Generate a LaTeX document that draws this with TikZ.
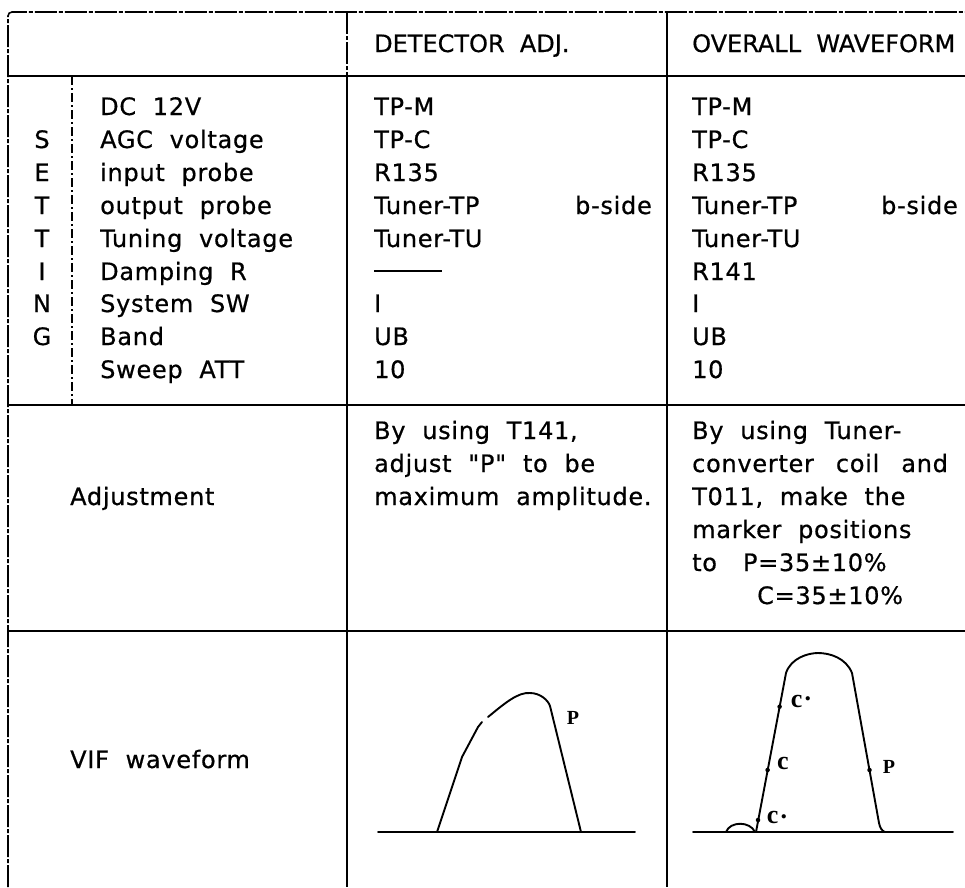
\documentclass[tikz,border=0pt]{standalone}
\usepackage{fontspec}
\newfontfamily\tabfont{DejaVu Sans}[WordSpace=2,LetterSpace=3,FakeBold=0.6]
\newfontfamily\headfont{DejaVu Sans}[WordSpace=2,FakeBold=0.6]
\newfontfamily\wavefont{Liberation Serif}
\begin{document}
\begin{tikzpicture}[x=1pt,y=-1pt,
  txt/.style={anchor=base west,inner sep=0pt,font=\tabfont\fontsize{24}{28}\selectfont},
  txtr/.style={anchor=base east,inner sep=0pt,font=\tabfont\fontsize{24}{28}\selectfont},
  txtc/.style={anchor=base,inner sep=0pt,font=\tabfont\fontsize{24}{28}\selectfont},
  head/.style={anchor=base west,inner sep=0pt,font=\headfont\fontsize{24}{28}\selectfont},
  rule/.style={line width=1.8pt,black},
  dashrule/.style={line width=1.6pt,black,dash pattern=on 22pt off 2pt on 4pt off 2pt},
  dashthin/.style={line width=1.3pt,black,dash pattern=on 9pt off 3pt on 2pt off 3pt},
  wave/.style={line width=1.9pt,black,line join=round,line cap=round},
  wlabel/.style={inner sep=0pt,font=\wavefont\bfseries\fontsize{20}{20}\selectfont},
  clabel/.style={inner sep=0pt,font=\wavefont\bfseries\fontsize{26}{26}\selectfont},
  marker/.style={fill=black,circle,inner sep=0pt,minimum size=4.5pt}]
\useasboundingbox (0,0) rectangle (965,887);
\fill[white] (0,0) rectangle (965,887);

% ---------- table rules ----------
\draw[dashrule,rounded corners=4pt] (8,887) -- (8,12) -- (965,12);
\draw[dashrule] (347,12) -- (347,76);
\draw[rule] (347,76) -- (347,887);
\draw[rule] (667,12) -- (667,887);
\draw[rule] (8,76) -- (965,76);
\draw[rule] (8,405) -- (965,405);
\draw[rule] (8,631) -- (965,631);
\draw[dashthin] (72,76) -- (72,405);

% ---------- header ----------
\node[head] (h2) at (374,52) {DETECTOR ADJ.};
\node[head] (h3) at (692,52) {OVERALL WAVEFORM};

% ---------- SETTING letters ----------
\node[txtc] (s1) at (42,148) {S};
\node[txtc] (s2) at (42,181) {E};
\node[txtc] (s3) at (42,214) {T};
\node[txtc] (s4) at (42,247) {T};
\node[txtc] (s5) at (42,280) {I};
\node[txtc] (s6) at (42,312) {N};
\node[txtc] (s7) at (42,345) {G};

% ---------- setting labels ----------
\node[txt] (l0) at (100,115) {DC 12V};
\node[txt] (l1) at (100,148) {AGC voltage};
\node[txt] (l2) at (100,181) {input probe};
\node[txt] (l3) at (100,214) {output probe};
\node[txt] (l4) at (100,247) {Tuning voltage};
\node[txt] (l5) at (100,280) {Damping R};
\node[txt] (l6) at (100,312) {System SW};
\node[txt] (l7) at (100,345) {Band};
\node[txt] (l8) at (100,378) {Sweep ATT};

% ---------- detector column ----------
\node[txt] (a0) at (374,115) {TP-M};
\node[txt] (a1) at (374,148) {TP-C};
\node[txt] (a2) at (374,181) {R135};
\node[txt] (a3) at (374,214) {Tuner-TP};
\node[txtr] (a3b) at (652,214) {b-side};
\node[txt] (a4) at (374,247) {Tuner-TU};
\draw[line width=1.6pt] (374,271) -- (442,271);
\node[txt] (a6) at (374,312) {I};
\node[txt] (a7) at (374,345) {UB};
\node[txt] (a8) at (374,378) {10};

% ---------- overall column ----------
\node[txt] (b0) at (692,115) {TP-M};
\node[txt] (b1) at (692,148) {TP-C};
\node[txt] (b2) at (692,181) {R135};
\node[txt] (b3) at (692,214) {Tuner-TP};
\node[txtr] (b3b) at (958,214) {b-side};
\node[txt] (b4) at (692,247) {Tuner-TU};
\node[txt] (b5) at (692,280) {R141};
\node[txt] (b6) at (692,312) {I};
\node[txt] (b7) at (692,345) {UB};
\node[txt] (b8) at (692,378) {10};

% ---------- adjustment ----------
\node[txt] (adj) at (70,505) {Adjustment};
\node[txt] (c1) at (374,439) {By using T141,};
\node[txt] (c2) at (374,472) {adjust "P" to be};
\node[txt] (c3) at (374,505) {maximum amplitude.};
\node[txt] (d1) at (692,439) {By using Tuner-};
\node[txt] (d2) at (692,472) {converter\hspace{22pt}coil\hspace{22pt}and};
\node[txt] (d3) at (692,505) {T011, make the};
\node[txt] (d4) at (692,538) {marker positions};
\node[txt] (d5) at (692,571) {to\hspace{26pt}P=35±10\%};
\node[txt] (d6) at (757,604) {C=35±10\%};

% ---------- VIF waveform ----------
\node[txt] (vif) at (70,768) {VIF waveform};

% detector waveform
\draw[wave] (378,832) -- (635,832);
\draw[wave] (437,832) -- (462,757) -- (478,727) -- (482,722);
\draw[wave] (488,717) .. controls (505,703) and (518,692) .. (530,693)
  .. controls (540,693) and (548,700) .. (550,706) -- (581,832);
\node[wlabel] (pd) at (573,718) {P};

% overall waveform
\draw[wave] (693,832) -- (953,832);
\draw[wave] (726,832) .. controls (730,821) and (750,821) .. (755,832);
\draw[wave] (756,832) -- (786,673)
  .. controls (791,658) and (808,653) .. (818,653)
  .. controls (830,653) and (846,658) .. (852,673)
  -- (879,823) .. controls (880,828) and (882,831) .. (885,832);
\node[marker] (m1) at (779.6,706.7) {};
\node[marker] (m2) at (767.6,770) {};
\node[marker] (m3) at (758,820) {};
\node[marker] (m4) at (869.5,770) {};
\node[clabel] (cu) at (801,701) {c\kern2pt\raisebox{7pt}{.}};
\node[clabel] (cm) at (783,763) {c};
\node[clabel] (cl) at (777,817) {c\kern2pt\raisebox{5pt}{.}};
\node[wlabel] (po) at (889,767) {P};
\end{tikzpicture}
\end{document}
